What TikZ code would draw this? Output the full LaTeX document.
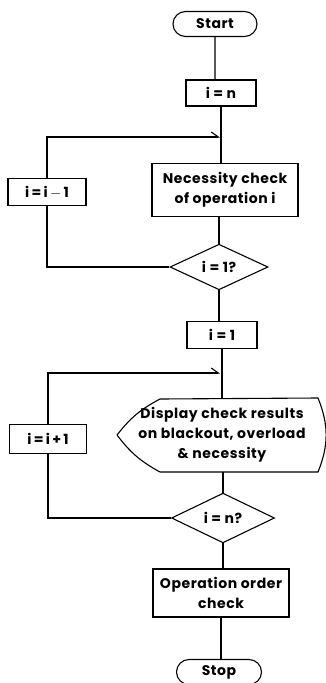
\documentclass[tikz,border=0pt]{standalone}
\usepackage{fontspec}
\setmainfont[LetterSpace=4]{Poppins}
\usetikzlibrary{shapes, arrows.meta, positioning}

\begin{document}
\begin{tikzpicture}[x=1pt, y=-1pt, line width=1.1pt,
    font=\fontsize{14}{20}\selectfont\bfseries,
    box/.style={draw, rectangle, inner sep=0pt, align=center},
    term/.style={draw, rounded rectangle, inner sep=0pt, minimum height=25},
    test/.style={draw, diamond, inner sep=0pt},
    >={Straight Barb[harpoon, length=7pt, width=10pt]}]
\useasboundingbox (0,0) rectangle (326,683);
% main column
\node[term, minimum width=84] (st) at (215,24) {Start};
\node[box, minimum width=70, minimum height=26] (s1) at (221,93) {i = n};
\node[box, minimum width=146, minimum height=53] (s2) at (225,190) {Necessity check\\of operation i};
\node[test, minimum width=98, minimum height=43] (d1) at (219,267) {i = 1?};
\node[box, minimum width=70, minimum height=27] (s3) at (222,335) {i = 1};
\coordinate (pl) at (117,435);
\draw (pl) to[bend left=12] (160,399) -- (318,398) to[bend left=22] (318,472)
  -- (160,472) to[bend left=12] (pl);
\node[align=center] (s4) at (222,435) {Display check results\\on blackout, overload\\\& necessity};
\node[test, minimum width=103, minimum height=47] (d2) at (223,518) {i = n?};
\node[box, minimum width=136, minimum height=48] (s5) at (221,593) {Operation order\\check};
\node[term, minimum width=85] (sp) at (219,672) {Stop};
% loop side
\node[box, minimum width=78, minimum height=27] (a1) at (47,192) {i\,=\,i\,$-$\,1};
\node[box, minimum width=77, minimum height=29] (a2) at (48,439) {i\,=\,i\,+\,1};
\coordinate (m1) at (220,137);
\coordinate (m2) at (220,373);
% connectors
\draw (st) -- (st |- s1.north);
\draw (s1) -- (s1 |- s2.north);
\draw (d1.north) -- (d1.north |- s2.south);
\draw (d1) -- (d1 |- s3.north);
\draw (s3) -- (s3 |- 0,398);
\draw (d2.north) -- (d2.north |- 0,472);
\draw (d2) -- (d2 |- s5.north);
\draw (s5) -- (s5 |- sp.north);
\draw (d1.west) -| (a1.south);
\draw[->] (a1.north) |- (m1);
\draw (d2.west) -| (a2.south);
\draw[->] (a2.north) |- (m2);
\end{tikzpicture}
\end{document}
